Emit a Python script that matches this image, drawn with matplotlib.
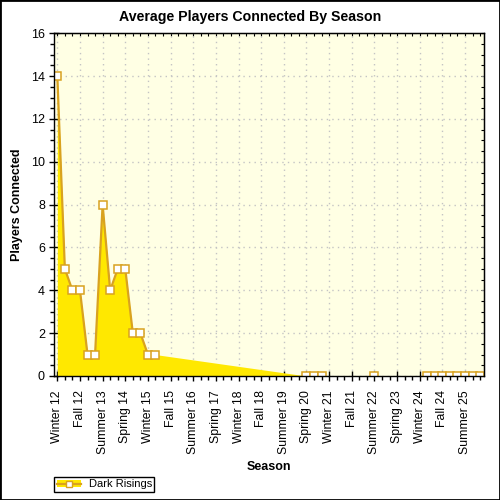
import numpy as np
import matplotlib
matplotlib.use("Agg")
import matplotlib.pyplot as plt
from matplotlib.patches import Patch, Rectangle
from matplotlib.lines import Line2D
from matplotlib.ticker import MultipleLocator

plt.rcParams['font.family'] = ['Liberation Sans', 'DejaVu Sans']

season_names = ["Winter", "Spring", "Summer", "Fall"]
years = list(range(12, 27))
seasons = [f"{s} {y}" for y in years for s in season_names][:57]  # Winter 12 .. Winter 26

# players connected per season (None = no data)
values = [14, 5, 4, 4, 1, 1, 8, 4, 5, 5, 2, 2, 1, 1] \
    + [None] * 19 \
    + [0, 0, 0] \
    + [None] * 6 \
    + [0] \
    + [None] * 6 \
    + [0, 0, 0, 0, 0, 0, 0, 0]
series_name = "Dark Risings"

fill_color = "#FFE800"
line_color = "#D9A21F"
bg_color = "#FFFFE4"

fig = plt.figure(figsize=(5, 5), dpi=100)
fig.patch.set_facecolor("white")
fig.patches.append(Rectangle((0, 0), 1, 1, transform=fig.transFigure, fill=False,
                             edgecolor="black", linewidth=2, zorder=10))
ax = fig.add_axes([0.1086, 0.248, 0.86, 0.6854])
ax.set_facecolor(bg_color)

x = np.arange(len(seasons))
y = np.array([np.nan if v is None else v for v in values], dtype=float)
valid = ~np.isnan(y)

ax.fill_between(x[valid], 0, y[valid], color=fill_color, linewidth=0, zorder=2)
ax.plot(x, y, color=line_color, linewidth=1.6, zorder=3)
ax.plot(x[valid], y[valid], linestyle="none", marker="s", markersize=5.5,
        markerfacecolor="white", markeredgecolor=line_color, markeredgewidth=1.1, zorder=4)

ax.set_xlim(-0.4, 56.55)
ax.set_ylim(0, 16)

major_idx = list(range(0, len(seasons), 3))
ax.set_xticks(major_idx)
ax.set_xticklabels([seasons[i] for i in major_idx], rotation=90, fontsize=8.8)
ax.set_xticks(x, minor=True)
ax.yaxis.set_major_locator(MultipleLocator(2))
ax.yaxis.set_minor_locator(MultipleLocator(0.5))
ax.tick_params(axis='y', labelsize=9)
ax.tick_params(which='major', direction='inout', length=6.5, width=1)
ax.tick_params(which='minor', direction='out', length=3, width=1)
ax.tick_params(axis='x', which='major', pad=7)

sx = ax.secondary_xaxis('top')
sx.set_xticks(x)
sx.set_xticklabels([])
sx.tick_params(direction='in', length=2.5, width=0.8)
sy = ax.secondary_yaxis('right')
sy.set_yticks(np.arange(0, 16.01, 0.5))
sy.set_yticklabels([])
sy.tick_params(direction='in', length=2.5, width=0.8)

ax.grid(True, which='major', color="#C4C4C4", linestyle=(0, (1, 3)), linewidth=1)
ax.set_axisbelow(True)
for sp in ax.spines.values():
    sp.set_color("black")
    sp.set_linewidth(1)
    sp.set_zorder(5)

fig.text(0.5, 0.966, "Average Players Connected By Season", fontsize=10.2,
         fontweight='bold', ha='center', va='center')
ax.set_ylabel("Players Connected", fontsize=9, fontweight='bold', labelpad=6)
ax.set_xlabel("Season", fontsize=9, fontweight='bold', labelpad=5)

handle = (Patch(facecolor=fill_color, edgecolor='none'),
          Line2D([], [], color=line_color, linewidth=1.6, marker="s", markersize=5,
                 markerfacecolor="white", markeredgecolor=line_color))
fig.legend([handle], [series_name], loc='lower left', bbox_to_anchor=(0.1086, 0.0166),
           borderaxespad=0, fancybox=False, edgecolor='black', framealpha=1,
           fontsize=8, handlelength=2.2, borderpad=0.2, handletextpad=0.7)

fig.savefig("out.png", dpi=100)
